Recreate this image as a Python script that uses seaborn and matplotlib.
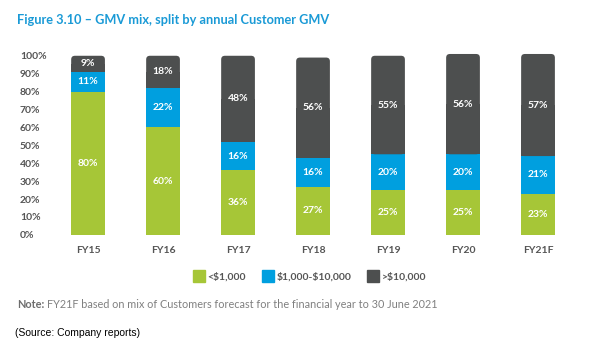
import matplotlib
matplotlib.use("Agg")
import matplotlib.pyplot as plt
from matplotlib.patches import FancyBboxPatch, Rectangle
from matplotlib.lines import Line2D
import seaborn as sns
import numpy as np
import pandas as pd

years = ["FY15", "FY16", "FY17", "FY18", "FY19", "FY20", "FY21F"]
under_1k = [80, 60, 36, 27, 25, 25, 23]
mid_1k_10k = [11, 22, 16, 16, 20, 20, 21]
over_10k = [9, 18, 48, 56, 55, 56, 57]
series_names = ["<$1,000", "$1,000-$10,000", ">$10,000"]
yticks = list(range(0, 101, 10))

GREEN = "#a6c637"
BLUE = "#009fdf"
DARK = "#4d4f4f"
TICK = "#555555"

sns.set_theme(style="white")
plt.rcParams["font.family"] = ["Lato", "DejaVu Sans"]
plt.rcParams["text.parse_math"] = False

df = pd.DataFrame({"year": years, "g": under_1k, "b": mid_1k_10k, "d": over_10k})
df["cum_b"] = df["g"] + df["b"]
df["cum_d"] = df["cum_b"] + df["d"]

fig = plt.figure(figsize=(6.09, 3.49), dpi=100)
ax = fig.add_axes([0.083, 0.327, 0.862, 0.544])

width = 0.45
sns.barplot(data=df, x="year", y="cum_d", color=DARK, width=width,
            saturation=1, ax=ax, linewidth=0)
sns.barplot(data=df, x="year", y="cum_b", color=BLUE, width=width,
            saturation=1, ax=ax, linewidth=0)
sns.barplot(data=df, x="year", y="g", color=GREEN, width=width,
            saturation=1, ax=ax, linewidth=0)

ax.set_ylim(0, 106)
ax.set_xlim(-0.5, len(years) - 0.5)

# round the top corners of the stacked columns
n = len(years)
rad_x = 0.05
aspect = (106 / 190) / (len(years) / 525)
for p in ax.patches[:n]:
    x0 = p.get_x()
    w, h = p.get_width(), p.get_height()
    p.set_visible(False)
    top_lo = df["cum_b"].iloc[int(round(x0 + w / 2))]
    ax.add_patch(FancyBboxPatch((x0, top_lo), w, h - top_lo,
                                boxstyle=f"round,pad=0,rounding_size={rad_x}",
                                mutation_aspect=aspect, facecolor=DARK,
                                edgecolor="none", zorder=1))
    ax.add_patch(Rectangle((x0, top_lo), w, (h - top_lo) / 2,
                           facecolor=DARK, edgecolor="none", zorder=1))

# segment labels
lab_kw = dict(ha="center", va="center", color="white", fontsize=7.5,
              fontweight="bold", zorder=5)
for i in range(n):
    g, b, d = under_1k[i], mid_1k_10k[i], over_10k[i]
    ax.text(i, g / 2, f"{g}%", **lab_kw)
    ax.text(i, g + b / 2, f"{b}%", **lab_kw)
    ax.text(i, g + b + d / 2, f"{d}%", **lab_kw)

ax.set_yticks(yticks)
ax.set_yticklabels([f"{t}%" for t in yticks])
for lbl in ax.get_yticklabels():
    lbl.set_ha("left")
ax.tick_params(axis="y", length=0, pad=22, labelsize=7.5, labelcolor=TICK)
ax.tick_params(axis="x", length=0, pad=8, labelsize=7.5, labelcolor=TICK)
for lbl in ax.get_xticklabels() + ax.get_yticklabels():
    lbl.set_fontweight("bold")
ax.set_xlabel("")
ax.set_ylabel("")
sns.despine(ax=ax, left=True, bottom=True)

handles = [Line2D([], [], marker="s", linestyle="none", markersize=8,
                  markerfacecolor=c, markeredgecolor=c)
           for c in (GREEN, BLUE, DARK)]
leg = fig.legend(handles, series_names, loc="center", ncol=3,
                 bbox_to_anchor=(310 / 609, 1 - 277 / 349), frameon=False,
                 fontsize=7.5, handletextpad=0.3, columnspacing=1.6,
                 handlelength=1.0)
for t in leg.get_texts():
    t.set_color(TICK)
    t.set_fontweight("bold")

fig.text(17 / 609, 1 - 20 / 349, "Figure 3.10 \u2013 GMV mix, split by annual Customer GMV",
         color="#1a9ad6", fontsize=9.2, fontweight="bold", va="center", ha="left")

note = fig.text(17 / 609, 1 - 304 / 349, "Note:", color="#6d6d6d", fontsize=7.8,
                fontweight="bold", va="center", ha="left")
fig.canvas.draw()
bb = note.get_window_extent()
fig.text((bb.x1 + 3) / 609, 1 - 304 / 349,
         "FY21F based on mix of Customers forecast for the financial year to 30 June 2021",
         color="#808080", fontsize=7.8, va="center", ha="left")

fig.text(15 / 609, 1 - 333 / 349, "(Source: Company reports)", color="black",
         fontsize=7.5, va="center", ha="left", family=["Liberation Sans", "DejaVu Sans"])

fig.savefig("out.png", dpi=100, facecolor="white")
